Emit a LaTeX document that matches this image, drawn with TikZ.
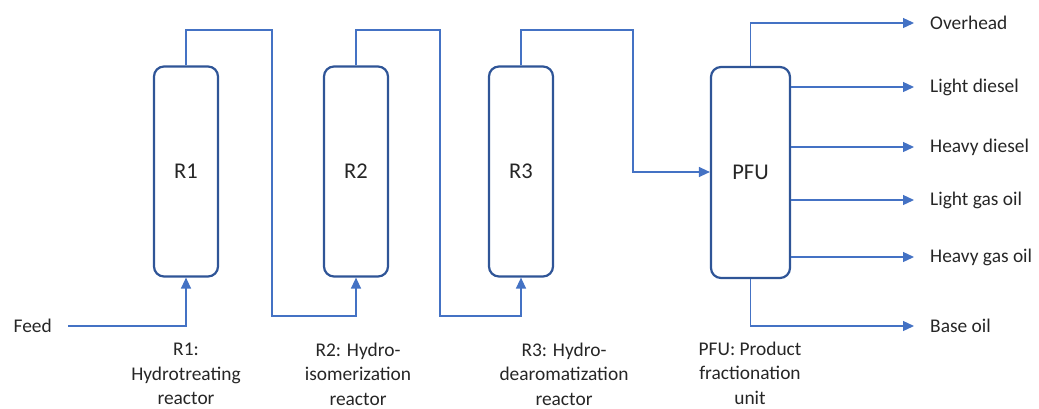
\documentclass[tikz,border=0pt]{standalone}
\usepackage{fontspec}
\setmainfont{Carlito}
\usetikzlibrary{arrows.meta}
\definecolor{boxblue}{HTML}{2F5597}
\definecolor{pipeblue}{HTML}{4472C4}
\definecolor{txtgray}{HTML}{262626}
\tikzset{
  vessel/.style={draw=boxblue,line width=2.2pt,rounded corners=10pt,minimum width=64pt,minimum height=210pt,
    font=\fontsize{22.5}{26}\selectfont,text=txtgray},
  flow/.style={draw=pipeblue,line width=1.3pt,-{Triangle[length=11pt,width=10pt]}},
  stream/.style={anchor=west,inner sep=0pt,font=\fontsize{19.4}{22}\selectfont,text=txtgray},
  caption/.style={align=center,inner sep=0pt,font=\fontsize{19.4}{24.5}\selectfont,text=txtgray}
}
\begin{document}
\begin{tikzpicture}[x=1pt,y=-1pt]
        \useasboundingbox (0,0) rectangle (1039,408);
        \node[vessel] (r1) at (186,171.5) {R1};
        \node[vessel] (r2) at (356,171.5) {R2};
        \node[vessel] (r3) at (521,171.5) {R3};
        \node[vessel,minimum width=79pt,minimum height=211pt] (pfu) at (750.5,172.5) {PFU};
        \node[stream,anchor=east] (feed) at (52,326) {Feed};
        \coordinate (t1) at (272,30);
        \coordinate (b1) at (272,316);
        \coordinate (t2) at (440,30);
        \coordinate (b2) at (440,316);
        \coordinate (t3) at (633,30);
        \coordinate (b3) at (633,172);
        \draw[flow] ([xshift=16pt]feed.east) -| (r1.south);
        \draw[flow] (r1.north) |- (t1) -- (b1) -| (r2.south);
        \draw[flow] (r2.north) |- (t2) -- (b2) -| (r3.south);
        \draw[flow] (r3.north) |- (t3) -- (b3) -- (b3 -| pfu.west);
        \node[stream] (oh) at (930,23) {Overhead};
        \node[stream] (bo) at (930,326) {Base oil};
        \draw[flow] (pfu.north) |- ([xshift=-16pt]oh.west);
        \draw[flow] (pfu.south) |- ([xshift=-16pt]bo.west);
        \foreach \nm/\y/\txt in {ld/87/Light diesel,hd/147/Heavy diesel,lg/200/Light gas oil,hg/257/Heavy gas oil} {
            \node[stream] (\nm) at (930,\y) {\txt};
            \draw[flow] (pfu.east |- \nm) -- ([xshift=-16pt]\nm.west);
          }
        \node[caption] (c1) at (186,374) {R1:\\Hydrotreating\\reactor};
        \node[caption] (c2) at (358,374) {R2: Hydro-\\isomerization\\reactor};
        \node[caption] (c3) at (564,374) {R3: Hydro-\\dearomatization\\reactor};
        \node[caption] (c4) at (750,373) {PFU: Product\\fractionation\\unit};
      \end{tikzpicture}
\end{document}
